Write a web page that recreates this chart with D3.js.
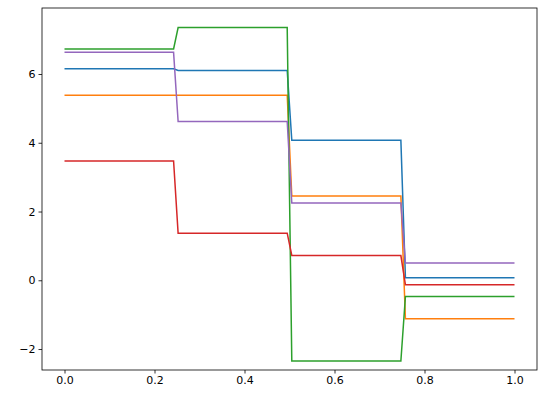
<!DOCTYPE html>
<html><head><meta charset="utf-8">
<script src="https://cdn.jsdelivr.net/npm/d3@7"></script>
<style>body{margin:0;background:#fff}svg{display:block}</style>
</head><body>
<script>
// x breakpoints of the step curves (sampled grid)
const xs = [0, 0.2424, 0.2525, 0.4949, 0.5051, 0.7475, 0.7576, 1];
// level of each series on the four segments
const blue = [6.15, 6.1, 4.07, 0.07];
const orange = [5.38, 5.38, 2.45, -1.12];
const green = [6.73, 7.35, -2.35, -0.47];
const red = [3.47, 1.37, 0.72, -0.13];
const purple = [6.63, 4.62, 2.25, 0.5];
const series = [blue, orange, green, red, purple];
const colors = ["#1f77b4", "#ff7f0e", "#2ca02c", "#d62728", "#9467bd"];
const xTicks = [0, 0.2, 0.4, 0.6, 0.8, 1.0];
const yTicks = [-2, 0, 2, 4, 6];

const W = 546, H = 413;
const m = {left: 42, right: 9, top: 8, bottom: 43};
const svg = d3.select("body").append("svg").attr("width", W).attr("height", H);
const x = d3.scaleLinear().domain([-0.05, 1.05]).range([m.left, W - m.right]);
const y = d3.scaleLinear().domain([-2.61, 7.92]).range([H - m.bottom, m.top]);

const line = d3.line().x(d => x(d[0])).y(d => y(d[1]));
series.forEach(function (s, i) {
  const pts = xs.map((xv, j) => [xv, s[Math.floor(j / 2)]]);
  svg.append("path").attr("d", line(pts)).attr("fill", "none")
    .attr("stroke", colors[i]).attr("stroke-width", 1.5);
});

svg.append("rect").attr("x", m.left).attr("y", m.top)
  .attr("width", W - m.left - m.right).attr("height", H - m.top - m.bottom)
  .attr("fill", "none").attr("stroke", "#000").attr("stroke-width", 0.8);

const fmt = v => v.toFixed(1);
svg.append("g").attr("transform", "translate(0," + (H - m.bottom) + ")")
  .call(d3.axisBottom(x).tickValues(xTicks).tickFormat(fmt).tickSize(3.5).tickPadding(3))
  .call(g => g.select(".domain").remove());
svg.append("g").attr("transform", "translate(" + m.left + ",0)")
  .call(d3.axisLeft(y).tickValues(yTicks).tickFormat(v => v < 0 ? "\u2212" + (-v) : v).tickSize(3.5).tickPadding(3))
  .call(g => g.select(".domain").remove());
svg.selectAll(".tick text").attr("font-family", "DejaVu Sans").attr("font-size", 11).attr("fill", "#000");
svg.selectAll(".tick line").attr("stroke", "#000").attr("stroke-width", 0.8);
</script>
</body></html>
